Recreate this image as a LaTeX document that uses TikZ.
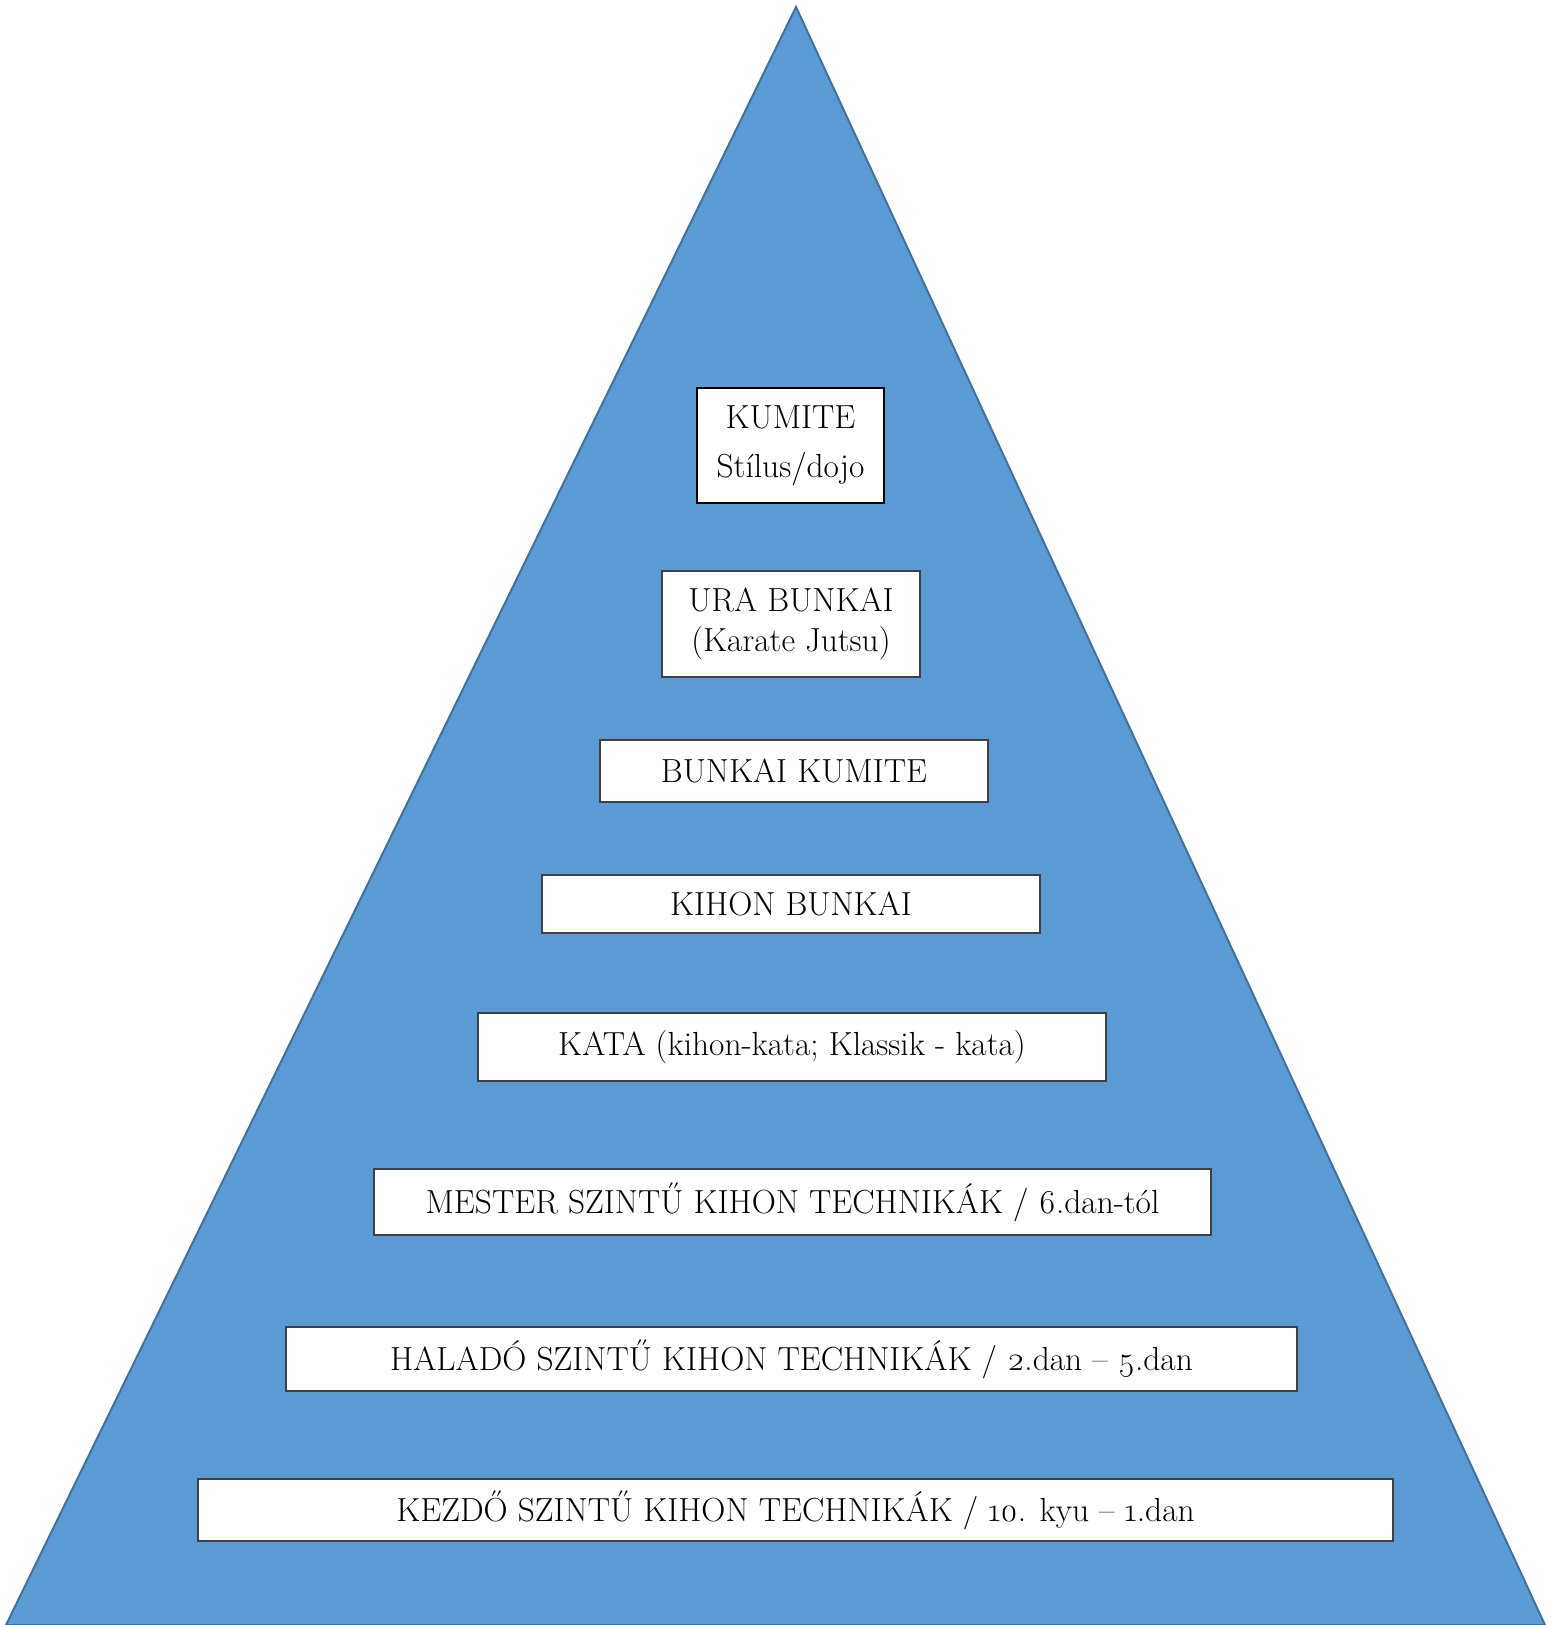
\documentclass[tikz,border=0pt]{standalone}
\usepackage{fontspec}
\setmainfont{Latin Modern Roman}[Numbers=OldStyle]
\definecolor{pyrfill}{HTML}{5B9BD5}
\definecolor{pyredge}{HTML}{41719C}
\begin{document}
\begin{tikzpicture}[x=0.5pt,y=-0.5pt,
  box/.style={draw=black!75, line width=0.6pt, fill=white, inner sep=0pt,
    align=center, anchor=center, font=\fontsize{16.7}{20}\selectfont}]
\useasboundingbox (0,0) rectangle (1555,1625);
\filldraw[fill=pyrfill, draw=pyredge, line width=1pt] (796,7) -- (1545,1625) -- (6,1625) -- cycle;
\node[box, line width=1.1pt, draw=black, minimum width=93.5pt, minimum height=57.5pt,
  font=\fontsize{16.7}{24.5}\selectfont] (kumite) at (790.5,445.5) {KUMITE\\Stílus/dojo};
\node[box, minimum width=129pt, minimum height=53pt,
  font=\fontsize{16.7}{20}\selectfont] (ura) at (791,624) {URA BUNKAI\\(Karate Jutsu)};
\node[box, minimum width=194pt, minimum height=31pt] (bk) at (794,771) {BUNKAI KUMITE};
\node[box, minimum width=249pt, minimum height=29pt] (kb) at (791,904) {KIHON BUNKAI};
\node[box, minimum width=314pt, minimum height=34pt] (kata) at (792,1047) {KATA (kihon-kata; Klassik - kata)};
\node[box, minimum width=418.5pt, minimum height=33pt] (mester) at (792.5,1202) {MESTER SZINTŰ KIHON TECHNIKÁK / 6.dan-tól};
\node[box, minimum width=505.5pt, minimum height=32pt] (halado) at (791.5,1359) {HALADÓ SZINTŰ KIHON TECHNIKÁK / 2.dan – 5.dan};
\node[box, minimum width=597.5pt, minimum height=31pt] (kezdo) at (795.5,1510) {KEZDŐ SZINTŰ KIHON TECHNIKÁK / 10. kyu – 1.dan};
\end{tikzpicture}
\end{document}
